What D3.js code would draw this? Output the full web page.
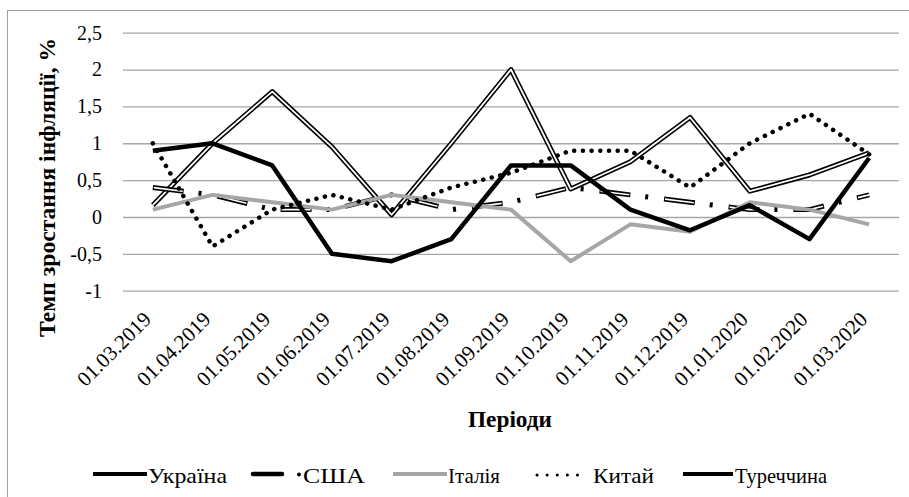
<!DOCTYPE html>
<html>
<head>
<meta charset="utf-8">
<script src="https://cdn.jsdelivr.net/npm/d3@7/dist/d3.min.js"></script>
<style>
  html, body { margin: 0; padding: 0; background: #fff; }
</style>
</head>
<body>
<svg id="chart" width="909" height="497" font-family="Liberation Serif"></svg>
<script>
const categories = ["01.03.2019","01.04.2019","01.05.2019","01.06.2019","01.07.2019","01.08.2019","01.09.2019","01.10.2019","01.11.2019","01.12.2019","01.01.2020","01.02.2020","01.03.2020"];
const ukraine = [0.16, 1.0, 1.7, 0.95, 0.03, 1.0, 2.0, 0.38, 0.75, 1.35, 0.35, 0.57, 0.87];
const usa     = [0.4, 0.3, 0.1, 0.1, 0.3, 0.1, 0.2, 0.4, 0.3, 0.2, 0.1, 0.1, 0.3];
const italy   = [0.1, 0.3, 0.2, 0.1, 0.3, 0.2, 0.1, -0.6, -0.1, -0.2, 0.2, 0.1, -0.1];
const china   = [1.0, -0.4, 0.1, 0.3, 0.1, 0.4, 0.6, 0.9, 0.9, 0.4, 1.0, 1.4, 0.85];
const turkey  = [0.9, 1.0, 0.7, -0.5, -0.6, -0.3, 0.7, 0.7, 0.1, -0.18, 0.16, -0.3, 0.8];
const seriesNames = ["Україна", "США", "Італія", "Китай", "Туреччина"];
const yTicks = [-1, -0.5, 0, 0.5, 1, 1.5, 2, 2.5];
const yTitle = "Темп зростання інфляції, %";
const xTitle = "Періоди";

const FONT = "Liberation Serif";
const svg = d3.select("#chart");
const plot = { left: 123, right: 899, top: 32.7, bottom: 290.7 };

svg.append("rect").attr("x", 7.5).attr("y", 10.5).attr("width", 930).attr("height", 520)
  .attr("fill", "none").attr("stroke", "#a0a0a0").attr("stroke-width", 1);

const x = d3.scalePoint().domain(categories).range([plot.left, plot.right]).padding(0.5);
const y = d3.scaleLinear().domain([-1, 2.5]).range([plot.bottom, plot.top]);

const yAxis = d3.axisLeft(y).tickValues(yTicks).tickSize(-(plot.right - plot.left)).tickPadding(21)
  .tickFormat(d => String(d).replace(".", ","));
const gy = svg.append("g").attr("transform", `translate(${plot.left},0)`).call(yAxis)
  .attr("font-family", FONT);
gy.select(".domain").remove();
gy.selectAll(".tick line").attr("stroke", "#a6a6a6").attr("stroke-width", 1.3);
gy.selectAll(".tick text").attr("font-size", 20).attr("fill", "#000").attr("font-family", FONT);

const xAxis = d3.axisBottom(x).tickSize(0).tickPadding(0);
const gx = svg.append("g").attr("transform", `translate(0,${plot.bottom})`).call(xAxis)
  .attr("font-family", FONT);
gx.select(".domain").remove();
gx.selectAll(".tick text")
  .attr("font-size", 21).attr("fill", "#000").attr("font-family", FONT)
  .attr("text-anchor", "end")
  .attr("dy", null).attr("y", 0)
  .attr("transform", "translate(-1,30) rotate(-45)");

svg.append("text").attr("x", 510).attr("y", 427).attr("font-family", FONT)
  .attr("text-anchor", "middle").attr("font-weight", "bold").attr("font-size", 23)
  .attr("textLength", 84).attr("lengthAdjust", "spacingAndGlyphs").text(xTitle);
svg.append("text").attr("transform", "translate(54.5,187.5) rotate(-90)").attr("font-family", FONT)
  .attr("text-anchor", "middle").attr("font-weight", "bold").attr("font-size", 23)
  .attr("textLength", 299).attr("lengthAdjust", "spacingAndGlyphs").text(yTitle);

const line = d3.line().x((d, i) => x(categories[i])).y(d => y(d));
const lines = svg.append("g").attr("fill", "none").attr("stroke-linejoin", "round");

// Україна: double (compound) line
lines.append("path").datum(ukraine).attr("d", line).attr("stroke", "#000").attr("stroke-width", 5);
lines.append("path").datum(ukraine).attr("d", line).attr("stroke", "#fff").attr("stroke-width", 1.8);
// США: compound long-dash-dot
lines.append("path").datum(usa).attr("d", line).attr("stroke", "#000").attr("stroke-width", 5)
  .attr("stroke-dasharray", "31,15,3,16");
lines.append("path").datum(usa).attr("d", line).attr("stroke", "#fff").attr("stroke-width", 1.6)
  .attr("stroke-dasharray", "29,36").attr("stroke-dashoffset", -1);
// Італія
lines.append("path").datum(italy).attr("d", line).attr("stroke", "#a6a6a6").attr("stroke-width", 4);
// Китай: round dots
lines.append("path").datum(china).attr("d", line).attr("stroke", "#000").attr("stroke-width", 4.5)
  .attr("stroke-linecap", "round").attr("stroke-dasharray", "0.1,8.6");
// Туреччина
lines.append("path").datum(turkey).attr("d", line).attr("stroke", "#000").attr("stroke-width", 4.5);

// legend
const legY = 474;
const leg = svg.append("g").attr("font-size", 22).attr("font-family", FONT);
const legendItems = [
  { name: seriesNames[0], x0: 93, x1: 147, tx: 148, tw: 79, type: "solid", color: "#000" },
  { name: seriesNames[1], x0: 253, x1: 282, tx: 303, tw: 62, type: "dashdot", color: "#000" },
  { name: seriesNames[2], x0: 393, x1: 447, tx: 448, tw: 52, type: "solid", color: "#a6a6a6" },
  { name: seriesNames[3], x0: 537, x1: 587, tx: 593, tw: 61, type: "dot", color: "#000" },
  { name: seriesNames[4], x0: 683, x1: 733, tx: 735, tw: 92, type: "solid", color: "#000" }
];
legendItems.forEach(it => {
  if (it.type === "solid") {
    leg.append("line").attr("x1", it.x0).attr("x2", it.x1).attr("y1", legY).attr("y2", legY)
      .attr("stroke", it.color).attr("stroke-width", 4);
  } else if (it.type === "dashdot") {
    leg.append("line").attr("x1", it.x0).attr("x2", it.x1).attr("y1", legY).attr("y2", legY)
      .attr("stroke", it.color).attr("stroke-width", 4.5).attr("stroke-linecap", "round");
    leg.append("circle").attr("cx", 299).attr("cy", legY + 0.5).attr("r", 2).attr("fill", "#000");
  } else {
    leg.append("line").attr("x1", it.x0).attr("x2", it.x1).attr("y1", legY + 1).attr("y2", legY + 1)
      .attr("stroke", it.color).attr("stroke-width", 3).attr("stroke-linecap", "round")
      .attr("stroke-dasharray", "0.1,10");
  }
  leg.append("text").attr("x", it.tx).attr("y", legY + 9).attr("font-family", FONT)
    .attr("textLength", it.tw).attr("lengthAdjust", "spacingAndGlyphs").text(it.name);
});
</script>
</body>
</html>
